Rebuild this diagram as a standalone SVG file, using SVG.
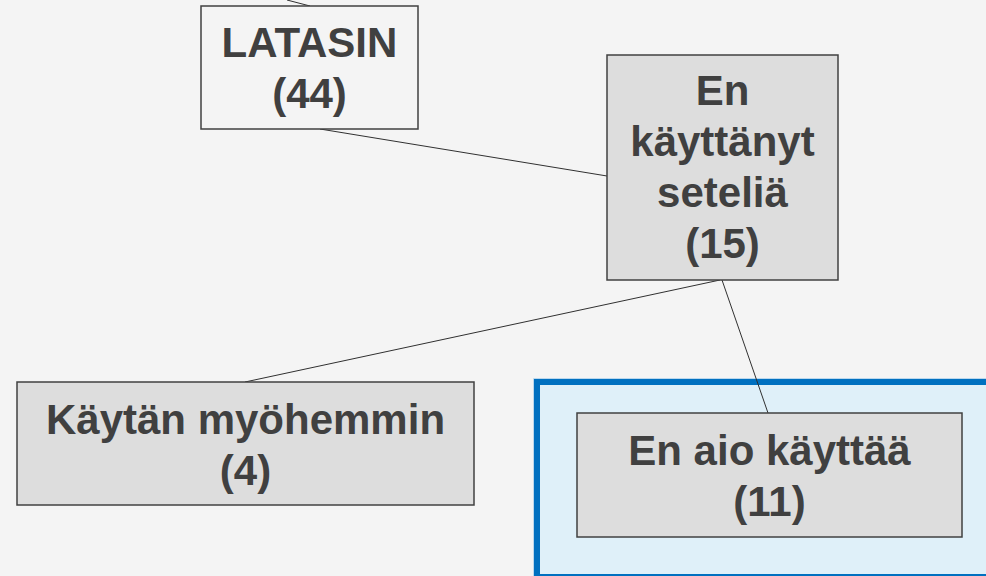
<svg xmlns="http://www.w3.org/2000/svg" width="986" height="576" viewBox="0 0 986 576">
<style>
.box{stroke:#404040;stroke-width:1.5}
.t{font-family:"Liberation Sans",Arial,sans-serif;font-weight:bold;font-size:42px;fill:#404040;text-anchor:middle}
.c{stroke:#303030;stroke-width:1;fill:none}
</style>
<rect width="986" height="576" fill="#f4f4f4"/>
<g id="highlight">
<rect x="537" y="382" width="456" height="195" fill="#dff0f9" stroke="#a6cdea" stroke-width="7.5"/>
<rect x="537" y="382" width="456" height="195" fill="#dff0f9" stroke="#0070c0" stroke-width="6"/>
</g>
<g id="connectors">
<line class="c" x1="287" y1="0" x2="310" y2="6"/>
<line class="c" x1="320" y1="129" x2="607" y2="176"/>
<line class="c" x1="245" y1="382" x2="720" y2="280"/>
<line class="c" x1="722" y1="280" x2="768" y2="413"/>
</g>
<g id="latasin">
<rect class="box" x="201" y="6" width="217" height="123" fill="#f4f4f4"/>
<text class="t" x="309.5" y="57">LATASIN</text>
<text class="t" x="309.5" y="108">(44)</text>
</g>
<g id="en-kayttanyt">
<rect class="box" x="607" y="55" width="231" height="225" fill="#dddddd"/>
<text class="t" x="722.5" y="105">En</text>
<text class="t" x="722.5" y="156">käyttänyt</text>
<text class="t" x="722.5" y="207">seteliä</text>
<text class="t" x="722.5" y="258">(15)</text>
</g>
<g id="kaytan-myohemmin">
<rect class="box" x="17" y="382" width="457" height="123" fill="#dddddd"/>
<text class="t" x="245.5" y="434">Käytän myöhemmin</text>
<text class="t" x="245.5" y="485">(4)</text>
</g>
<g id="en-aio-kayttaa">
<rect class="box" x="577" y="413" width="385" height="124" fill="#dddddd"/>
<text class="t" x="769.5" y="465">En aio käyttää</text>
<text class="t" x="769.5" y="516">(11)</text>
</g>
</svg>
